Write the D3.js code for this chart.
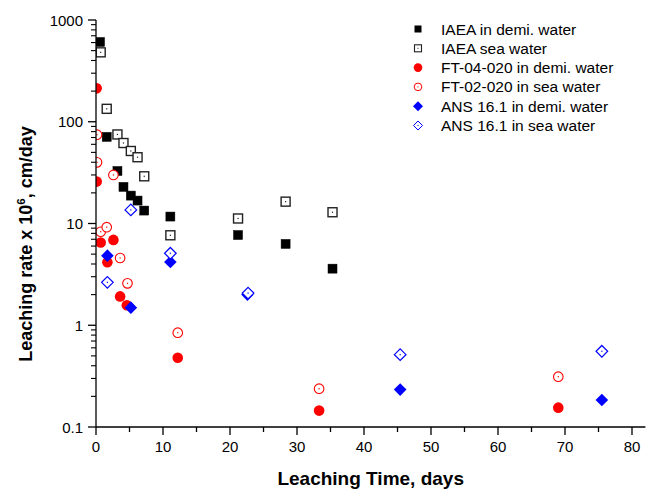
<!DOCTYPE html>
<html>
<head>
<meta charset="utf-8">
<style>
  body { margin: 0; background: #fff; }
  svg { display: block; font-family: Arial, "Liberation Sans", sans-serif; }
</style>
</head>
<body>
<div id="chart"></div>
<script src="https://d3js.org/d3.v7.min.js"></script>
<script>
// data (days, leaching rate x 1e6 cm/day)
const iaeaDemiX = [0.6, 1.6, 3.2, 4.1, 5.2, 6.2, 7.2, 11.1, 21.2, 28.3, 35.3];
const iaeaDemiY = [608, 71, 32.8, 22.9, 18.8, 16.8, 13.4, 11.7, 7.7, 6.3, 3.6];

const iaeaSeaX = [0.7, 1.6, 3.2, 4.1, 5.2, 6.2, 7.2, 11.1, 21.2, 28.3, 35.3];
const iaeaSeaY = [481, 134, 75, 61.8, 51.6, 44.8, 29.1, 7.66, 11.2, 16.4, 12.9];

const ftDemiX = [0.1, 0.1, 0.7, 1.7, 2.6, 3.6, 4.6, 12.2, 33.3, 69.0];
const ftDemiY = [213, 25.8, 6.5, 4.16, 6.9, 1.92, 1.57, 0.48, 0.145, 0.155];

const ftSeaX = [0.15, 0.15, 2.6, 0.7, 1.6, 3.6, 4.7, 12.2, 33.3, 69.0];
const ftSeaY = [74.6, 39.9, 30, 8.3, 9.2, 4.58, 2.58, 0.845, 0.238, 0.312];

const ansDemiX = [1.7, 5.2, 11.1, 22.6, 45.4, 75.5];
const ansDemiY = [4.83, 1.49, 4.19, 2.0, 0.233, 0.184];

const ansSeaX = [1.7, 5.2, 11.1, 22.7, 45.4, 75.5];
const ansSeaY = [2.64, 13.6, 5.1, 2.07, 0.514, 0.555];

const seriesNames = ["IAEA in demi. water", "IAEA sea water", "FT-04-020 in demi. water",
                     "FT-02-020 in sea water", "ANS 16.1 in demi. water", "ANS 16.1 in sea water"];
const xTicks = [0, 10, 20, 30, 40, 50, 60, 70, 80];
const yTicks = [0.1, 1, 10, 100, 1000];

const width = 647, height = 492;
const margin = {left: 96, top: 20, right: 2, bottom: 65};

const svg = d3.select("#chart").append("svg")
  .attr("width", width).attr("height", height);

const x = d3.scaleLinear().domain([0, 82]).range([margin.left, margin.left + 82 * 6.7]);
const y = d3.scaleLog().domain([0.1, 1000]).range([height - margin.bottom, margin.top]);

const series = [
  {name: seriesNames[0], xs: iaeaDemiX, ys: iaeaDemiY, shape: "square", color: "#000", fill: true},
  {name: seriesNames[1], xs: iaeaSeaX, ys: iaeaSeaY, shape: "square", color: "#222", fill: false},
  {name: seriesNames[2], xs: ftDemiX, ys: ftDemiY, shape: "circle", color: "#ff0000", fill: true},
  {name: seriesNames[3], xs: ftSeaX, ys: ftSeaY, shape: "circle", color: "#ff0000", fill: false},
  {name: seriesNames[4], xs: ansDemiX, ys: ansDemiY, shape: "diamond", color: "#0000ff", fill: true},
  {name: seriesNames[5], xs: ansSeaX, ys: ansSeaY, shape: "diamond", color: "#0000ff", fill: false}
];

function drawSymbol(g, s, cx, cy) {
  const fill = s.fill ? s.color : "#fff";
  if (s.shape === "square") {
    g.append("rect").attr("x", cx - 4.5).attr("y", cy - 4.5).attr("width", 9).attr("height", 9)
      .attr("fill", fill).attr("stroke", s.color).attr("stroke-width", s.fill ? 0.5 : 1.4);
  } else if (s.shape === "circle") {
    g.append("circle").attr("cx", cx).attr("cy", cy).attr("r", s.fill ? 5.3 : 4.8)
      .attr("fill", fill).attr("stroke", s.color).attr("stroke-width", s.fill ? 0 : 1.1);
  } else {
    const r = s.fill ? 6.3 : 5.8;
    g.append("path").attr("d", `M${cx},${cy - r}L${cx + r},${cy}L${cx},${cy + r}L${cx - r},${cy}Z`)
      .attr("fill", fill).attr("stroke", s.color).attr("stroke-width", s.fill ? 0 : 1.2);
  }
  if (!s.fill) {
    g.append("rect").attr("x", cx - 0.6).attr("y", cy - 0.6).attr("width", 1.2).attr("height", 1.2)
      .attr("fill", s.color);
  }
}

// clip to plot area
svg.append("clipPath").attr("id", "plot")
  .append("rect").attr("x", x(0)).attr("y", 0)
  .attr("width", x(82) - x(0) + 5).attr("height", y(0.1));

const marks = svg.append("g").attr("clip-path", "url(#plot)");
series.forEach(s => {
  const g = marks.append("g");
  s.xs.forEach((d, i) => drawSymbol(g, s, x(d), y(s.ys[i])));
});

// x axis
const xAxis = svg.append("g").attr("transform", `translate(0,${y(0.1)})`);
xAxis.append("line").attr("x1", x(0)).attr("x2", x(82)).attr("stroke", "#000").attr("stroke-width", 1.3);
xAxis.selectAll(".major").data(xTicks).join("line")
  .attr("x1", d => x(d)).attr("x2", d => x(d)).attr("y1", 0).attr("y2", 8)
  .attr("stroke", "#000").attr("stroke-width", 1.3);
xAxis.selectAll(".minor").data(xTicks.map(d => d + 5)).join("line")
  .attr("x1", d => x(d)).attr("x2", d => x(d)).attr("y1", 0).attr("y2", 5)
  .attr("stroke", "#000").attr("stroke-width", 1.3);
xAxis.selectAll("text").data(xTicks).join("text")
  .attr("x", d => x(d)).attr("y", 25).attr("text-anchor", "middle")
  .attr("font-size", 15).text(d => d);

// y axis
const yAxis = svg.append("g").attr("transform", `translate(${x(0)},0)`);
yAxis.append("line").attr("y1", y(0.1)).attr("y2", y(1000)).attr("stroke", "#000").attr("stroke-width", 1.3);
yAxis.selectAll(".major").data(yTicks).join("line")
  .attr("x1", -8).attr("x2", 0).attr("y1", d => y(d)).attr("y2", d => y(d))
  .attr("stroke", "#000").attr("stroke-width", 1.3);
const minorY = y.ticks().filter(d => !yTicks.includes(d));
yAxis.selectAll(".minorY").data(minorY).join("line")
  .attr("x1", -5).attr("x2", 0).attr("y1", d => y(d)).attr("y2", d => y(d))
  .attr("stroke", "#000").attr("stroke-width", 1.1);
yAxis.selectAll("text").data(yTicks).join("text")
  .attr("x", -13).attr("y", d => y(d) + 5.5).attr("text-anchor", "end")
  .attr("font-size", 15).text(d => d);

// axis titles
svg.append("text").attr("x", x(41)).attr("y", 485).attr("text-anchor", "middle")
  .attr("font-size", 19).attr("font-weight", "bold").text("Leaching Time, days");

const yt = svg.append("text").attr("transform", `translate(32,244) rotate(-90)`)
  .attr("text-anchor", "middle").attr("font-size", 18).attr("font-weight", "bold");
yt.append("tspan").text("Leaching rate x 10");
yt.append("tspan").attr("font-size", 11.5).attr("dy", -7).text("6");
yt.append("tspan").attr("dy", 7).text(", cm/day");

// legend
const legend = svg.append("g").attr("transform", "translate(418,29)");
series.forEach((s, i) => {
  const g = legend.append("g").attr("transform", `translate(0,${i * 19.3})`);
  drawLegendSymbol(g, s);
  g.append("text").attr("x", 23).attr("y", 5.5).attr("font-size", 15.5).text(s.name);
});

function drawLegendSymbol(g, s) {
  const fill = s.fill ? s.color : "#fff";
  if (s.shape === "square") {
    g.append("rect").attr("x", -3.5).attr("y", -3.5).attr("width", 7).attr("height", 7)
      .attr("fill", fill).attr("stroke", s.color).attr("stroke-width", s.fill ? 0 : 1.1);
  } else if (s.shape === "circle") {
    g.append("circle").attr("r", s.fill ? 4.3 : 3.8)
      .attr("fill", fill).attr("stroke", s.color).attr("stroke-width", s.fill ? 0 : 1);
  } else {
    const r = s.fill ? 5 : 4.5;
    g.append("path").attr("d", `M0,${-r}L${r},0L0,${r}L${-r},0Z`)
      .attr("fill", fill).attr("stroke", s.color).attr("stroke-width", s.fill ? 0 : 1);
  }
  if (!s.fill) {
    g.append("rect").attr("x", -0.5).attr("y", -0.5).attr("width", 1).attr("height", 1).attr("fill", s.color);
  }
}
</script>
</body>
</html>
